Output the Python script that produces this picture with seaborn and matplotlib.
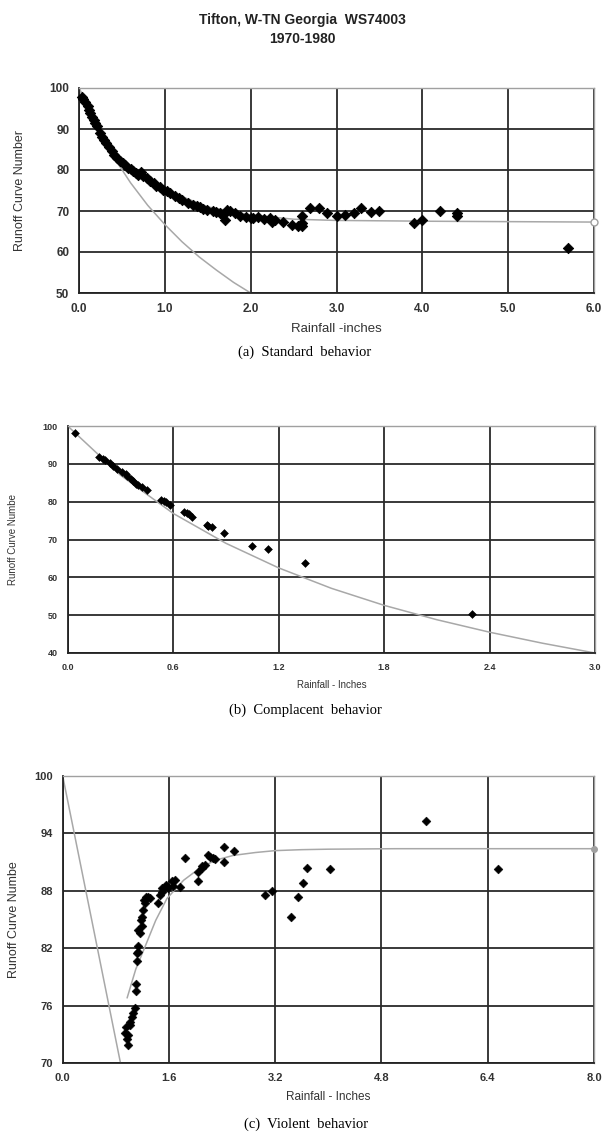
import numpy as np
import pandas as pd
import matplotlib
matplotlib.use("Agg")
import matplotlib.pyplot as plt
import seaborn as sns

sns.set_style("white")
plt.rcParams['font.family'] = ['Liberation Sans', 'DejaVu Sans']

# ---------------- data: (a) standard behaviour ----------------
a_x = [0.03, 0.05, 0.07, 0.10, 0.12, 0.13, 0.15, 0.17, 0.19, 0.21, 0.24, 0.27, 0.29, 0.32,
       0.35, 0.38, 0.41, 0.44, 0.48, 0.51, 0.54, 0.57, 0.60, 0.63, 0.66, 0.69, 0.72, 0.75,
       0.79, 0.83, 0.87, 0.90, 0.94, 0.98, 1.02, 1.06, 1.12, 1.16, 1.20, 1.27, 1.33, 1.37,
       1.41, 1.45, 1.49, 1.56, 1.60, 1.64, 1.68, 1.70, 1.72, 1.76, 1.82, 1.88, 1.95, 2.00,
       2.03, 2.09, 2.15, 2.22, 2.25, 2.28, 2.38, 2.48, 2.55, 2.60, 2.60, 2.60, 2.69, 2.80,
       2.89, 3.00, 3.10, 3.20, 3.29, 3.40, 3.50, 3.90, 4.00, 4.20, 4.40, 4.40, 5.70]
a_y = [97.8, 97.2, 96.7, 95.5, 94.6, 93.9, 93.0, 92.3, 91.5, 90.7, 89.0, 88.0, 87.4, 86.6,
       85.5, 84.6, 83.6, 82.9, 82.1, 81.7, 81.3, 80.5, 80.2, 79.7, 79.3, 78.9, 79.4, 78.5,
       78.0, 77.3, 76.8, 76.2, 75.8, 75.2, 74.8, 74.4, 73.6, 73.1, 72.6, 72.0, 71.5, 71.3,
       70.9, 70.6, 70.3, 70.1, 69.8, 69.5, 69.1, 67.9, 70.2, 69.9, 69.5, 68.7, 68.5, 68.4,
       68.3, 68.5, 68.0, 68.3, 67.4, 67.9, 67.2, 66.7, 66.3, 68.7, 66.3, 67.0, 70.7, 70.7,
       69.5, 68.7, 69.1, 69.5, 70.7, 69.7, 70.1, 67.1, 67.9, 70.1, 69.5, 68.7, 61.0]
a_bound_x = [0.0, 0.2, 0.4, 0.6, 0.8, 1.0, 1.2, 1.4, 1.6, 1.8, 2.0]
a_bound_y = [100.0, 90.9, 83.3, 76.9, 71.4, 66.7, 62.5, 58.8, 55.6, 52.6, 50.0]
a_fit_x = [0.0, 0.25, 0.5, 0.75, 1.0, 1.5, 2.0, 2.5, 3.0, 4.1, 6.0]
a_fit_y = [100.0, 89.5, 82.5, 78.3, 75.2, 71.0, 69.0, 68.0, 67.7, 67.5, 67.3]
a_xticks = [0.0, 1.0, 2.0, 3.0, 4.0, 5.0, 6.0]
a_yticks = [50, 60, 70, 80, 90, 100]

# ---------------- data: (b) complacent behaviour ----------------
b_x = [0.04, 0.18, 0.20, 0.21, 0.24, 0.26, 0.28, 0.31, 0.33, 0.34, 0.36, 0.37, 0.39, 0.40,
       0.42, 0.45, 0.53, 0.55, 0.56, 0.58, 0.66, 0.68, 0.69, 0.71, 0.79, 0.80, 0.82, 0.89,
       1.05, 1.14, 1.35, 2.30]
b_y = [98.1, 91.9, 91.4, 91.0, 90.1, 89.4, 88.7, 87.9, 87.3, 86.8, 85.9, 85.4, 84.8, 84.3,
       83.9, 83.1, 80.4, 80.2, 80.0, 79.1, 77.3, 77.0, 76.7, 76.0, 73.8, 73.5, 73.2, 71.6,
       68.3, 67.4, 63.7, 50.3]
b_curve_x = [0.0, 0.3, 0.6, 0.9, 1.2, 1.5, 1.8, 2.1, 2.4, 2.7, 3.0]
b_curve_y = [100.0, 87.0, 76.9, 69.0, 62.5, 57.1, 52.6, 48.8, 45.5, 42.6, 40.0]
b_xticks = [0.0, 0.6, 1.2, 1.8, 2.4, 3.0]
b_yticks = [40, 50, 60, 70, 80, 90, 100]

# ---------------- data: (c) violent behaviour ----------------
c_x = [0.99, 0.94, 0.99, 0.96, 1.01, 1.04, 1.06, 1.09, 1.02, 0.97, 1.10, 1.10, 1.12, 1.12,
       1.14, 1.14, 1.16, 1.14, 1.18, 1.19, 1.20, 1.21, 1.23, 1.24, 1.26, 1.28, 1.31, 1.44,
       1.47, 1.49, 1.50, 1.54, 1.56, 1.59, 1.64, 1.66, 1.69, 1.77, 1.84, 2.03, 2.04, 2.09,
       2.10, 2.14, 2.19, 2.22, 2.27, 2.30, 2.43, 2.43, 2.58, 3.04, 3.15, 3.44, 3.54, 3.62,
       3.68, 4.03, 5.47, 6.56]
c_y = [71.9, 73.1, 72.9, 73.8, 74.3, 74.8, 75.2, 75.7, 74.0, 72.5, 77.5, 78.3, 80.7, 81.5,
       81.6, 82.2, 83.6, 83.9, 85.0, 84.3, 85.3, 86.0, 87.0, 86.7, 87.4, 87.3, 87.2, 86.7,
       87.6, 88.3, 87.9, 88.4, 88.6, 88.3, 89.0, 88.5, 89.1, 88.4, 91.4, 89.0, 90.0, 90.4,
       90.6, 90.7, 91.7, 91.5, 91.4, 91.3, 92.6, 91.0, 92.2, 87.6, 88.0, 85.3, 87.3, 88.8,
       90.4, 90.3, 95.3, 90.3]
c_steep_x = [0.0, 0.45, 0.87]
c_steep_y = [100.0, 84.5, 70.0]
c_fit_x = [0.97, 1.1, 1.26, 1.4, 1.57, 1.82, 2.07, 2.3, 2.57, 2.9, 3.2, 3.6, 4.0, 5.0, 6.0, 8.0]
c_fit_y = [76.8, 79.8, 82.5, 84.9, 87.2, 89.1, 90.4, 91.2, 91.7, 92.0, 92.2, 92.3, 92.35,
           92.4, 92.4, 92.4]
c_xticks = [0.0, 1.6, 3.2, 4.8, 6.4, 8.0]
c_yticks = [70, 76, 82, 88, 94, 100]

W, H = 605, 1142
fig = plt.figure(figsize=(W / 100, H / 100), dpi=100)


def frac(l, t, r, b):
    return [l / W, 1 - b / H, (r - l) / W, (b - t) / H]


def style_axes(ax, xlim, ylim, xticks, yticks, xfmt, fs, tick_color='#333333'):
    ax.set_xlim(*xlim)
    ax.set_ylim(*ylim)
    ax.set_xticks(xticks)
    ax.set_yticks(yticks)
    ax.set_xticklabels([xfmt.format(v) for v in xticks])
    ax.set_yticklabels([str(v) for v in yticks])
    ax.grid(True, color='#2a2a2a', lw=1.3)
    ax.set_axisbelow(True)
    for s in ['top', 'right']:
        ax.spines[s].set_color('#a0a0a0')
        ax.spines[s].set_linewidth(1.0)
    for s in ['left', 'bottom']:
        ax.spines[s].set_color('#222222')
        ax.spines[s].set_linewidth(1.3)
    ax.tick_params(direction='out', length=4, width=1.2, color='#222222',
                   labelsize=fs, labelcolor=tick_color, pad=3)
    for lab in ax.get_xticklabels() + ax.get_yticklabels():
        lab.set_fontweight('bold')


# ---------------- panel (a) ----------------
ax1 = fig.add_axes(frac(79, 88, 594, 293))
sns.lineplot(x=a_bound_x, y=a_bound_y, ax=ax1, color='#a8a8a8', lw=1.1, sort=False)
sns.lineplot(x=a_fit_x, y=a_fit_y, ax=ax1, color='#a8a8a8', lw=1.1, sort=False)
sns.scatterplot(x=a_x, y=a_y, ax=ax1, marker='D', s=28, color='black',
                edgecolor='black', linewidth=0.6, zorder=4, clip_on=False)
ax1.plot(a_fit_x[-1], a_fit_y[-1], 'o', ms=5, mfc='white', mec='#a0a0a0',
         mew=1, clip_on=False, zorder=5)
style_axes(ax1, (0, 6), (50, 100), a_xticks, a_yticks, '{:.1f}', 8.5)
ax1.set_xlabel('Rainfall -inches', fontsize=9.5, color='#333333', labelpad=6)
ax1.set_ylabel('Runoff Curve Number', fontsize=9, color='#333333', labelpad=17)

# ---------------- panel (b) ----------------
ax2 = fig.add_axes(frac(67.7, 426, 595, 653))
sns.lineplot(x=b_curve_x, y=b_curve_y, ax=ax2, color='#a8a8a8', lw=1.1, sort=False)
sns.scatterplot(x=b_x, y=b_y, ax=ax2, marker='D', s=16, color='black',
                edgecolor='black', linewidth=0.4, zorder=4, clip_on=False)
style_axes(ax2, (0, 3), (40, 100), b_xticks, b_yticks, '{:.1f}', 6.5)
ax2.set_xlabel('Rainfall - Inches', fontsize=7, color='#333333', labelpad=6)
ax2.set_ylabel('Runoff Curve Numbe', fontsize=7, color='#333333', labelpad=18)

# ---------------- panel (c) ----------------
ax3 = fig.add_axes(frac(62.7, 776, 594, 1063))
sns.lineplot(x=c_steep_x, y=c_steep_y, ax=ax3, color='#a8a8a8', lw=1.1, sort=False)
sns.lineplot(x=c_fit_x, y=c_fit_y, ax=ax3, color='#a8a8a8', lw=1.1, sort=False)
sns.scatterplot(x=c_x, y=c_y, ax=ax3, marker='D', s=20, color='black',
                edgecolor='black', linewidth=0.4, zorder=4, clip_on=False)
ax3.plot(c_fit_x[-1], c_fit_y[-1], 'o', ms=4, mfc='#a0a0a0', mec='#a0a0a0',
         clip_on=False, zorder=5)
style_axes(ax3, (0, 8), (70, 100), c_xticks, c_yticks, '{:.1f}', 8)
ax3.set_xlabel('Rainfall - Inches', fontsize=8.5, color='#333333', labelpad=6)
ax3.set_ylabel('Runoff Curve Numbe', fontsize=9, color='#333333', labelpad=10)

# ---------------- titles & captions ----------------
fig.text(0.5, 1 - 20 / H, 'Tifton, W-TN Georgia  WS74003', ha='center', va='center',
         fontsize=10, fontweight='bold', color='#222222')
fig.text(0.5, 1 - 39 / H, '1970-1980', ha='center', va='center',
         fontsize=10, fontweight='bold', color='#222222')
serif = ['Liberation Serif', 'DejaVu Serif']
fig.text(305 / W, 1 - 352 / H, '(a)  Standard  behavior', ha='center', va='center',
         fontsize=10.5, family=serif, color='black')
fig.text(305 / W, 1 - 710 / H, '(b)  Complacent  behavior', ha='center', va='center',
         fontsize=10.5, family=serif, color='black')
fig.text(306 / W, 1 - 1124 / H, '(c)  Violent  behavior', ha='center', va='center',
         fontsize=10.5, family=serif, color='black')

fig.savefig('out.png', dpi=100, facecolor='white')
